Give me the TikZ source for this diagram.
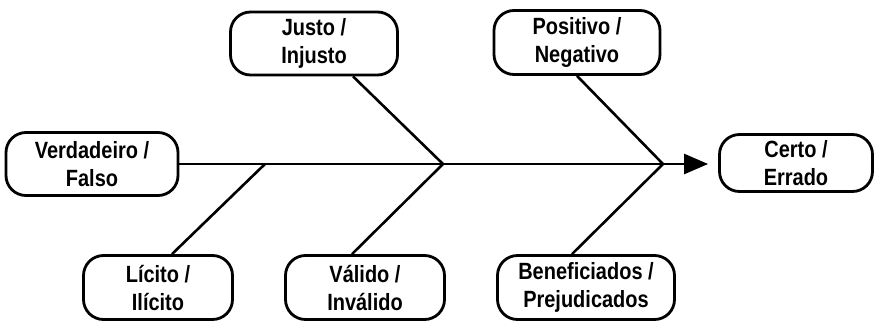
\documentclass[tikz,border=0pt]{standalone}
\usepackage{fontspec}
\setmainfont{Liberation Sans}[FakeStretch=0.85]
\usetikzlibrary{arrows.meta}
\begin{document}
\begin{tikzpicture}[x=1pt,y=-1pt,
  box/.style={draw, line width=2.8pt, rounded corners=20pt, align=center,
    font=\fontsize{23.5}{28}\selectfont\bfseries, inner sep=0pt},
  bone/.style={line width=2.6pt}]
\useasboundingbox (0,0) rectangle (876,322);
\node[box, minimum width=172pt, minimum height=63pt] (verd) at (92,164) {Verdadeiro /\\Falso};
\node[box, minimum width=167pt, minimum height=63pt] (justo) at (314,43.5) {Justo /\\Injusto};
\node[box, minimum width=166pt, minimum height=64pt] (posit) at (577,42.5) {Positivo /\\Negativo};
\node[box, minimum width=153pt, minimum height=57pt] (certo) at (796,163) {Certo /\\Errado};
\node[box, minimum width=149pt, minimum height=64pt] (licito) at (158,287.5) {Lícito /\\Ilícito};
\node[box, minimum width=159pt, minimum height=64pt] (valido) at (365,287.5) {Válido /\\Inválido};
\node[box, minimum width=177pt, minimum height=64pt] (benef) at (586,287.5) {Beneficiados /\\Prejudicados};
\coordinate (j1) at (265,164);
\coordinate (j2) at (443,164);
\coordinate (j3) at (663,164);
\draw[bone, -{Triangle[length=24pt,width=20pt]}, shorten >=10pt] (verd.east) -- (verd.east -| certo.west);
\draw[bone] ([xshift=39pt]justo.south) -- (j2);
\draw[bone] (posit.south) -- (j3);
\draw[bone] (j1) -- ([xshift=14pt]licito.north);
\draw[bone] (j2) -- ([xshift=-13pt]valido.north);
\draw[bone] (j3) -- ([xshift=-14pt]benef.north);
\end{tikzpicture}
\end{document}
